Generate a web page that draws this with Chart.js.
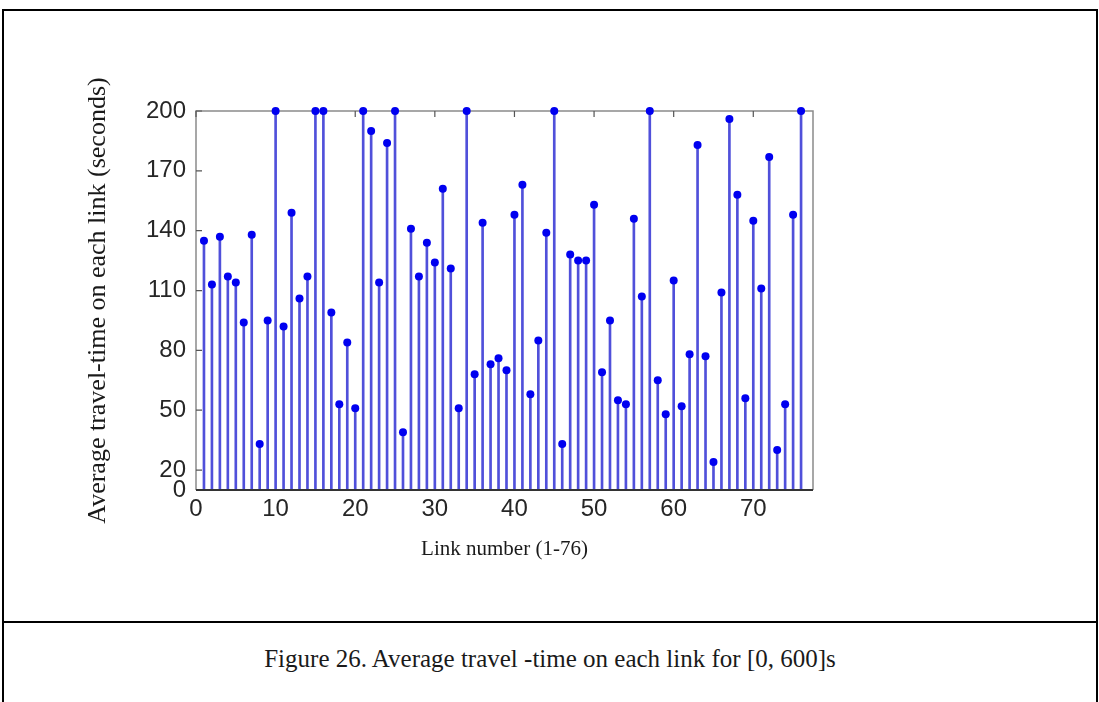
<!DOCTYPE html>
<html>
<head>
<meta charset="utf-8">
<script src="https://cdn.jsdelivr.net/npm/chart.js@4/dist/chart.umd.min.js"></script>
<style>
    body { margin: 0; background: #fff; }
    #frame {
        position: absolute; left: 2px; top: 9px; width: 1092px; height: 700px;
        border-top: 2px solid #000; border-left: 2px solid #000; border-right: 2px solid #000;
    }
    #divider { position: absolute; left: 0; top: 610px; width: 100%; border-top: 2px solid #000; }
    #caption {
        position: absolute; left: 0; top: 634px; width: 100%; text-align: center;
        font-family: "Liberation Serif", "DejaVu Serif", serif; font-size: 25px; color: #1a1a1a;
    }
    #wrap { position: absolute; left: 0; top: 0; width: 1099px; height: 620px; }
</style>
</head>
<body>
<div id="frame">
    <div id="divider"></div>
    <div id="caption">Figure 26. Average travel -time on each link for [0, 600]s</div>
</div>
<div id="wrap"><canvas id="chartStem"></canvas></div>
<script>
// ── Data ──────────────────────────────────────────────
const links = Array.from({ length: 76 }, (_, i) => i + 1);
const travelTimes = [
    135, 113, 137, 117, 114,  94, 138,  33,  95, 200,
     92, 149, 106, 117, 200, 200,  99,  53,  84,  51,
    200, 190, 114, 184, 200,  39, 141, 117, 134, 124,
    161, 121,  51, 200,  68, 144,  73,  76,  70, 148,
    163,  58,  85, 139, 200,  33, 128, 125, 125, 153,
     69,  95,  55,  53, 146, 107, 200,  65,  48, 115,
     52,  78, 183,  77,  24, 109, 196, 158,  56, 145,
    111, 177,  30,  53, 148, 200,
];
const xTicks = [0, 10, 20, 30, 40, 50, 60, 70];
const yTicks = [10, 20, 50, 80, 110, 140, 170, 200];
const yTickLabels = ['0', '20', '50', '80', '110', '140', '170', '200'];

const points = links.map((x, i) => ({ x, y: travelTimes[i] }));

// box + inward tick marks (MATLAB look)
const axesBox = {
    id: 'axesBox',
    beforeDatasetsDraw(chart) {
        const { ctx, chartArea: a, scales } = chart;
        ctx.save();
        ctx.lineWidth = 1.5;
        ctx.strokeStyle = '#8a8a8a';
        ctx.beginPath();
        ctx.moveTo(a.left, a.bottom); ctx.lineTo(a.left, a.top);
        ctx.lineTo(a.right, a.top); ctx.lineTo(a.right, a.bottom);
        ctx.stroke();
        ctx.strokeStyle = '#555';
        ctx.lineWidth = 1.2;
        ctx.beginPath();
        yTicks.forEach(v => {
            const y = scales.y.getPixelForValue(v);
            ctx.moveTo(a.left, y); ctx.lineTo(a.left + 6, y);
        });
        xTicks.forEach(v => {
            const x = scales.x.getPixelForValue(v);
            ctx.moveTo(x, a.top); ctx.lineTo(x, a.top + 6);
        });
        ctx.stroke();
        ctx.restore();
    },
    afterDatasetsDraw(chart) {
        const { ctx, chartArea: a } = chart;
        ctx.save();
        ctx.lineWidth = 1.8;
        ctx.strokeStyle = '#333';
        ctx.beginPath();
        ctx.moveTo(a.left, a.bottom); ctx.lineTo(a.right, a.bottom);
        ctx.stroke();
        ctx.restore();
    },
};

new Chart(document.getElementById('chartStem').getContext('2d'), {
    data: {
        datasets: [
            {
                type: 'scatter',
                data: points,
                pointRadius: 4,
                pointBackgroundColor: '#0000f0',
                pointBorderWidth: 0,
                clip: false,
                order: 0,
            },
            {
                type: 'bar',
                data: points,
                backgroundColor: 'rgb(80,80,218)',
                barThickness: 2,
                order: 1,
            },
        ],
    },
    options: {
        responsive: true,
        maintainAspectRatio: false,
        animation: false,
        layout: { padding: { left: 0, right: 286, top: 111, bottom: 0 } },
        plugins: {
            legend: { display: false },
            tooltip: { enabled: false },
        },
        scales: {
            x: {
                type: 'linear',
                offset: false,
                min: 0,
                max: 77.5,
                afterBuildTicks: s => { s.ticks = xTicks.map(v => ({ value: v })); },
                afterFit: s => { s.height = 130; },
                grid: { display: false, drawTicks: false },
                border: { display: false },
                ticks: {
                    padding: 5,
                    color: '#262626',
                    font: { family: 'Liberation Sans, Arial, sans-serif', size: 24 },
                },
                title: {
                    display: true,
                    text: 'Link number (1-76)',
                    color: '#1a1a1a',
                    font: { family: 'Liberation Serif, DejaVu Serif, serif', size: 21 },
                    padding: { top: 0, bottom: 58 },
                },
            },
            y: {
                min: 10,
                max: 200,
                afterBuildTicks: s => { s.ticks = yTicks.map(v => ({ value: v })); },
                afterFit: s => { s.width = 196; },
                grid: { display: false, drawTicks: false },
                border: { display: false },
                ticks: {
                    padding: 10,
                    color: '#262626',
                    font: { family: 'Liberation Sans, Arial, sans-serif', size: 24 },
                    callback: v => yTickLabels[yTicks.indexOf(v)],
                },
                title: {
                    display: true,
                    text: 'Average travel-time on each link (seconds)',
                    color: '#1a1a1a',
                    font: { family: 'Liberation Serif, DejaVu Serif, serif', size: 26 },
                    padding: { top: 83, bottom: 0 },
                },
            },
        },
    },
    plugins: [axesBox],
});
</script>
</body>
</html>
